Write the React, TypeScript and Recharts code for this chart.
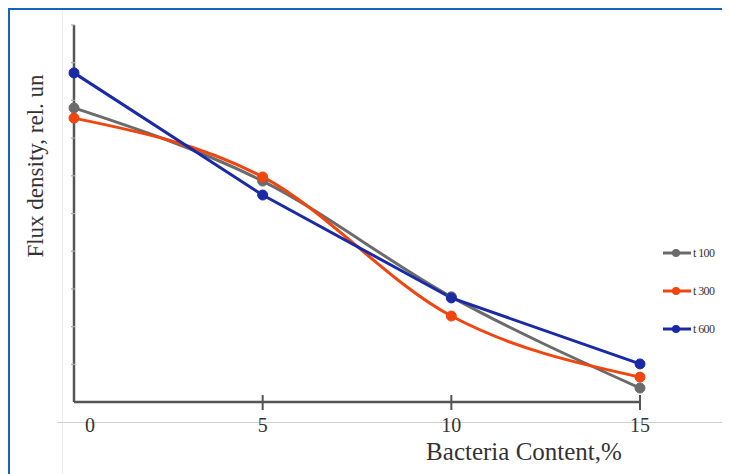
import { LineChart, Line, XAxis, YAxis } from 'recharts'

const contents = [0, 5, 10, 15]
const t100 = [7.8, 5.86, 2.79, 0.37]
const t300 = [7.53, 5.97, 2.28, 0.66]
const t600 = [8.73, 5.49, 2.76, 1.01]
const yTicks = [0, 1, 2, 3, 4, 5, 6, 7, 8, 9, 10]

const SERIES = [
  { key: 't100', name: 't 100', color: '#6b6b6b', type: 'monotone' as const },
  { key: 't300', name: 't 300', color: '#f0450f', type: 'monotone' as const },
  { key: 't600', name: 't 600', color: '#1a2aa6', type: 'linear' as const },
]

const data = contents.map((c, i) => ({ c, t100: t100[i], t300: t300[i], t600: t600[i] }))

const FONT = '"Liberation Serif", "DejaVu Serif", serif'

// tickSize/tickMargin are 0, so y here is the axis line itself
function XTick({ x, y, payload }: any) {
  return (
    <g>
      {payload.value !== 0 && (
        <line x1={x} x2={x} y1={y - 7} y2={y + 8} stroke="#555" strokeWidth={2} />
      )}
      <text
        x={payload.value === 0 ? x + 16 : x}
        y={y + 30}
        textAnchor="middle"
        fontSize={20}
        fill="#333"
        fontFamily={FONT}
      >
        {payload.value}
      </text>
    </g>
  )
}

function YTick({ x, y, payload }: any) {
  if (payload.value === 0) return <g />
  return <line x1={x + 5} x2={x + 9} y1={y} y2={y} stroke="#aaa" strokeWidth={1.2} />
}

export default function App() {
  return (
    <div style={{ position: 'relative', width: 722, height: 466, background: '#fff' }}>
      <div style={{ position: 'absolute', left: 0, top: 0, width: 722, height: 2, background: '#1565c0' }} />
      <div style={{ position: 'absolute', left: 0, top: 0, width: 2, height: 466, background: '#1565c0' }} />
      <div style={{ position: 'absolute', left: 54, top: 2, width: 1, height: 464, background: '#ececec' }} />
      <div style={{ position: 'absolute', left: 49, top: 414, width: 673, height: 1, background: '#cfcfcf' }} />
      <div style={{ position: 'absolute', left: 719, top: 2, width: 1, height: 464, background: '#f0f0f0' }} />

      <LineChart width={722} height={466} data={data} margin={{ top: 17, right: 90, bottom: 42, left: 56 }}>
        <XAxis
          dataKey="c"
          type="number"
          domain={[0, 15]}
          ticks={contents}
          axisLine={{ stroke: '#555', strokeWidth: 2.5 }}
          tickLine={false}
          tickSize={0}
          tickMargin={0}
          tick={<XTick />}
          height={30}
        />
        <YAxis
          type="number"
          domain={[0, 10]}
          ticks={yTicks}
          width={10}
          axisLine={{ stroke: '#555', strokeWidth: 2.5 }}
          tickLine={false}
          tick={<YTick />}
        />
        {SERIES.map(s => (
          <Line
            key={s.key}
            dataKey={s.key}
            name={s.name}
            type={s.type}
            stroke={s.color}
            strokeWidth={3}
            dot={{ r: 5, fill: s.color, stroke: s.color, strokeWidth: 1 }}
            isAnimationActive={false}
          />
        ))}
      </LineChart>

      <div style={{ position: 'absolute', left: 654, top: 226, fontFamily: FONT }}>
        {SERIES.map(s => (
          <div key={s.key} style={{ display: 'flex', alignItems: 'center', height: 38 }}>
            <svg width={30} height={12}>
              <line x1={1} x2={29} y1={6} y2={6} stroke={s.color} strokeWidth={3} />
              <circle cx={14} cy={6} r={4} fill={s.color} />
            </svg>
            <span style={{ fontSize: 12, color: '#333', marginLeft: 1, letterSpacing: -0.6 }}>{s.name}</span>
          </div>
        ))}
      </div>

      <svg width={722} height={466} style={{ position: 'absolute', left: 0, top: 0, pointerEvents: 'none' }}>
        <text
          x={35}
          y={158}
          transform="rotate(-90, 35, 158)"
          textAnchor="middle"
          fontSize={23}
          fill="#333"
          fontFamily={FONT}
        >
          Flux density, rel. un
        </text>
        <text x={516} y={452} textAnchor="middle" fontSize={25} fill="#333" fontFamily={FONT}>
          Bacteria Content,%
        </text>
      </svg>
    </div>
  )
}
